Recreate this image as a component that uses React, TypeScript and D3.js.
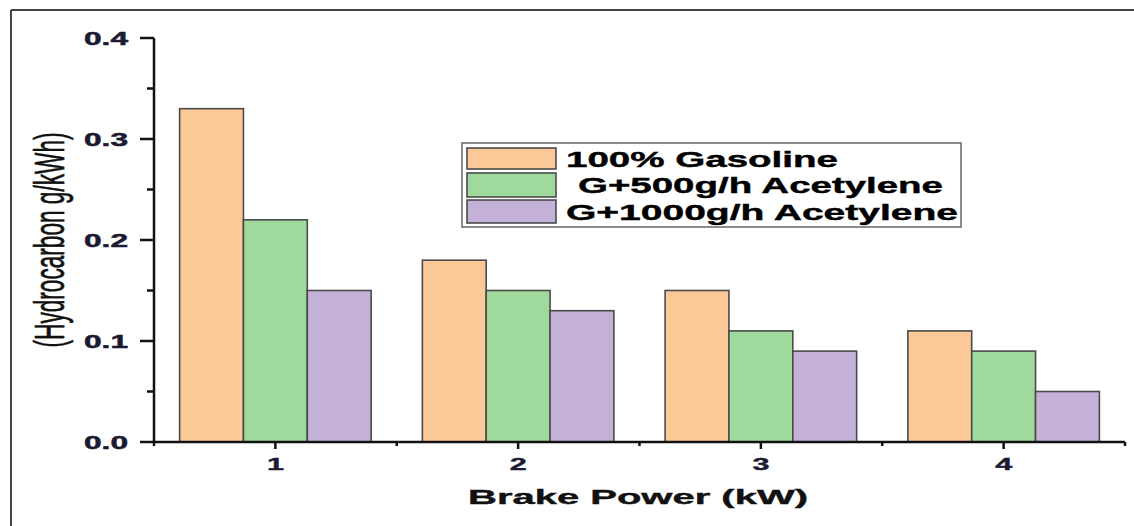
import React from "react";
import * as d3 from "d3";

const categories = [1, 2, 3, 4];
const seriesNames = ["100% Gasoline", " G+500g/h Acetylene", "G+1000g/h Acetylene"];
const gasoline = [0.33, 0.18, 0.15, 0.11];
const g500 = [0.22, 0.15, 0.11, 0.09];
const g1000 = [0.15, 0.13, 0.09, 0.05];
const yTicks = [0.0, 0.1, 0.2, 0.3, 0.4];
const yMinorTicks = [0.05, 0.15, 0.25, 0.35];
const xMinorTicks = [0.5, 1.5, 2.5, 3.5, 4.5];
const colors = ["#FBC897", "#9FD99B", "#C3B1D8"];

const W = 1134;
const H = 526;
const FONT = "'Liberation Sans', Arial, sans-serif";

export default function App() {
  const x = d3.scaleLinear().domain([0.5, 4.5]).range([154, 1125]);
  const y = d3.scaleLinear().domain([0, 0.4]).range([442, 38]);
  const series = [gasoline, g500, g1000];
  const bw = 0.263;
  const bwPx = x(bw) - x(0);

  const legendTextLen = [272, 365, 392];
  const legendTextX = [566, 578, 566];
  const legendBaseline = [167, 193, 220];
  const swatchY = [148, 173, 200];
  const swatchH = [21, 24, 23];

  return (
    <svg width={W} height={H} style={{ position: "absolute", left: 0, top: 0 }}>
      <rect x={0} y={0} width={W} height={H} fill="#fff" />
      {/* outer frame */}
      <line x1={11} y1={10} x2={W} y2={10} stroke="#444" strokeWidth={2} />
      <line x1={11} y1={10} x2={11} y2={H} stroke="#444" strokeWidth={2} />

      {/* bars */}
      {series.map((vals, si) =>
        vals.map((v, ci) => {
          const cx = x(categories[ci]) + (si - 1) * bwPx - bwPx / 2;
          return (
            <rect
              key={`b${si}-${ci}`}
              x={cx}
              y={y(v)}
              width={bwPx}
              height={y(0) - y(v)}
              fill={colors[si]}
              stroke="#4a4a4a"
              strokeWidth={1.6}
            />
          );
        })
      )}

      {/* y axis */}
      <line x1={154} y1={y(0.4)} x2={154} y2={y(0) + 1} stroke="#111" strokeWidth={2.5} />
      {yTicks.map((t) => (
        <g key={`yt${t}`}>
          <line x1={140} x2={154} y1={y(t)} y2={y(t)} stroke="#111" strokeWidth={2.5} />
          <text
            x={128}
            y={y(t) + 6.5}
            textAnchor="end"
            fontFamily={FONT}
            fontWeight="bold"
            fontSize={18}
            fill="#1a1a30"
            stroke="#1a1a30"
            strokeWidth={0.5}
            textLength={44}
            lengthAdjust="spacingAndGlyphs"
          >
            {t.toFixed(1)}
          </text>
        </g>
      ))}
      {yMinorTicks.map((t) => (
        <line key={`ym${t}`} x1={147} x2={154} y1={y(t)} y2={y(t)} stroke="#111" strokeWidth={2.5} />
      ))}

      {/* x axis */}
      <line x1={153} y1={442} x2={1125} y2={442} stroke="#111" strokeWidth={2.5} />
      {categories.map((c) => (
        <g key={`xt${c}`}>
          <line x1={x(c)} x2={x(c)} y1={442} y2={449} stroke="#111" strokeWidth={2.5} />
          <text
            x={x(c)}
            y={470}
            textAnchor="middle"
            fontFamily={FONT}
            fontWeight="bold"
            fontSize={17}
            fill="#1a1a30"
            stroke="#1a1a30"
            strokeWidth={0.4}
            textLength={17}
            lengthAdjust="spacingAndGlyphs"
          >
            {c}
          </text>
        </g>
      ))}
      {xMinorTicks.map((t) => (
        <line key={`xm${t}`} x1={x(t)} x2={x(t)} y1={442} y2={446} stroke="#111" strokeWidth={2.5} />
      ))}

      {/* axis titles */}
      <text
        x={468}
        y={504}
        fontFamily={FONT}
        fontWeight="bold"
        fontSize={21}
        fill="#111"
        stroke="#111"
        strokeWidth={0.4}
        textLength={340}
        lengthAdjust="spacingAndGlyphs"
      >
        Brake Power (kW)
      </text>
      <text
        transform="translate(64,240) scale(2.1,1) rotate(-90)"
        textAnchor="middle"
        fontFamily={FONT}
        fontSize={20}
        fill="#111"
        stroke="#111"
        strokeWidth={0.3}
        textLength={215}
        lengthAdjust="spacingAndGlyphs"
      >
        (Hydrocarbon g/kWh)
      </text>

      {/* legend */}
      <rect x={462} y={143} width={499} height={84} fill="#fff" stroke="#666" strokeWidth={1.5} />
      {seriesNames.map((n, i) => (
        <g key={`lg${i}`}>
          <rect
            x={467}
            y={swatchY[i]}
            width={89}
            height={swatchH[i]}
            fill={colors[i]}
            stroke="#4a4a4a"
            strokeWidth={1.6}
          />
          <text
            x={legendTextX[i]}
            y={legendBaseline[i]}
            fontFamily={FONT}
            fontWeight="bold"
            fontSize={22}
            fill="#000"
            stroke="#000"
            strokeWidth={0.4}
            textLength={legendTextLen[i]}
            lengthAdjust="spacingAndGlyphs"
          >
            {n.trim()}
          </text>
        </g>
      ))}
    </svg>
  );
}
